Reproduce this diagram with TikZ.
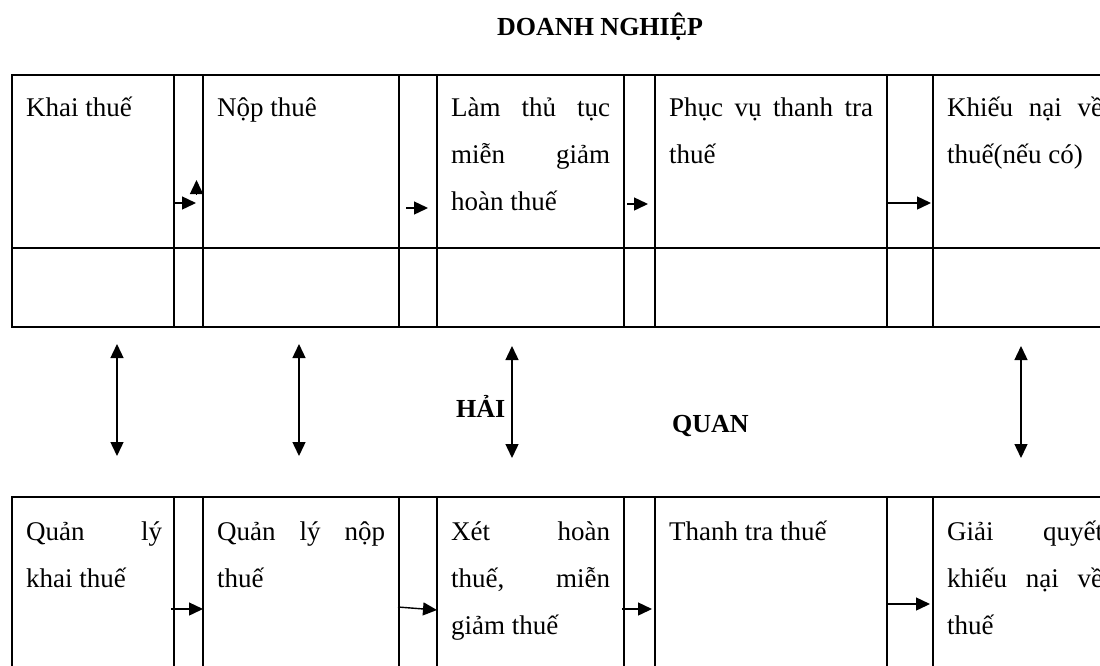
\documentclass[tikz,border=0pt]{standalone}
\usepackage{fontspec}
\setmainfont{Liberation Serif}
\usetikzlibrary{arrows.meta}

% one justified line of a cell: words spread over the given width
\newcommand{\cellline}[2]{\hbox to #1pt{#2}}

\tikzset{
  rule/.style={line width=2.6pt, line cap=rect},
  txt/.style={anchor=base west, inner sep=0pt, font=\fontsize{27}{32}\selectfont},
  ttl/.style={anchor=base west, inner sep=0pt, font=\fontsize{26}{30}\selectfont\bfseries},
  flow/.style={line width=1.4pt, -{Triangle[length=14pt,width=13pt]}},
  link/.style={line width=1.4pt, {Triangle[length=14pt,width=13pt]}-{Triangle[length=14pt,width=13pt]}},
}

\begin{document}
\begin{tikzpicture}[x=1pt,y=-1pt]
\useasboundingbox (0,0) rectangle (1100,665);
\clip (0,0) rectangle (1100,665);

% ---------- enterprise table ----------
\draw[rule] (12,75) rectangle (1117,327);
\draw[rule] (12,248) -- (1117,248);
\foreach \x in {174,203,399,437,624,655,887,933}
  \draw[rule] (\x,75) -- (\x,327);

% ---------- customs table ----------
\draw[rule] (12,497) -- (1117,497);
\foreach \x in {12,174,203,399,437,624,655,887,933,1117}
  \draw[rule] (\x,497) -- (\x,700);

% ---------- headings ----------
\node[ttl] (dn) at (497,35) {DOANH NGHIỆP};
\node[ttl] (hai) at (456,417) {HẢI};
\node[ttl] (quan) at (672,432) {QUAN};

% ---------- enterprise steps ----------
\node[txt] (e1) at (26,116) {Khai thuế};
\node[txt] (e2) at (217,116) {Nộp thuê};
\node[txt] (e3a) at (451,116) {\cellline{159}{Làm\hfill thủ\hfill tục}};
\node[txt] (e3b) at (451,163) {\cellline{159}{miễn\hfill giảm}};
\node[txt] (e3c) at (451,210) {hoàn thuế};
\node[txt] (e4a) at (669,116) {\cellline{204}{Phục\hfill vụ\hfill thanh\hfill tra}};
\node[txt] (e4b) at (669,163) {thuế};
\node[txt] (e5a) at (947,116) {\cellline{156}{Khiếu\hfill nại\hfill về}};
\node[txt] (e5b) at (947,163) {thuế(nếu có)};

% ---------- customs steps ----------
\node[txt] (c1a) at (26,540) {\cellline{136}{Quản\hfill lý}};
\node[txt] (c1b) at (26,587) {khai thuế};
\node[txt] (c2a) at (217,540) {\cellline{168}{Quản\hfill lý\hfill nộp}};
\node[txt] (c2b) at (217,587) {thuế};
\node[txt] (c3a) at (451,540) {\cellline{159}{Xét\hfill hoàn}};
\node[txt] (c3b) at (451,587) {\cellline{159}{thuế,\hfill miễn}};
\node[txt] (c3c) at (451,634) {giảm thuế};
\node[txt] (c4a) at (669,540) {Thanh tra thuế};
\node[txt] (c5a) at (947,540) {\cellline{156}{Giải\hfill quyết}};
\node[txt] (c5b) at (947,587) {\cellline{156}{khiếu\hfill nại\hfill về}};
\node[txt] (c5c) at (947,634) {thuế};

% ---------- arrow end points ----------
\coordinate (ea1) at (174,203);   \coordinate (eb1) at (196,203);
\coordinate (eu1) at (196.5,194); \coordinate (eu2) at (196.5,180);
\coordinate (ea2) at (406,208);   \coordinate (eb2) at (428,208);
\coordinate (ea3) at (627,204);   \coordinate (eb3) at (648,204);
\coordinate (ea4) at (887,203);   \coordinate (eb4) at (931,203);

\coordinate (ca1) at (171,609);   \coordinate (cb1) at (203,609);
\coordinate (ca2) at (398,607);   \coordinate (cb2) at (437,610);
\coordinate (ca3) at (622,609);   \coordinate (cb3) at (652,609);
\coordinate (ca4) at (886,604);   \coordinate (cb4) at (930,604);

\coordinate (v1t) at (117,344);  \coordinate (v1b) at (117,456);
\coordinate (v2t) at (299,344);  \coordinate (v2b) at (299,456);
\coordinate (v3t) at (512,346);  \coordinate (v3b) at (512,458);
\coordinate (v4t) at (1021,346); \coordinate (v4b) at (1021,458);

% ---------- step arrows ----------
\draw[flow] (ea1) -- (eb1);
\draw[flow] (eu1) -- (eu2);
\draw[flow] (ea2) -- (eb2);
\draw[flow] (ea3) -- (eb3);
\draw[flow] (ea4) -- (eb4);

\draw[flow] (ca1) -- (cb1);
\draw[flow] (ca2) -- (cb2);
\draw[flow] (ca3) -- (cb3);
\draw[flow] (ca4) -- (cb4);

% ---------- links between the two sides ----------
\draw[link] (v1t) -- (v1b);
\draw[link] (v2t) -- (v2b);
\draw[link] (v3t) -- (v3b);
\draw[link] (v4t) -- (v4b);
\end{tikzpicture}
\end{document}
